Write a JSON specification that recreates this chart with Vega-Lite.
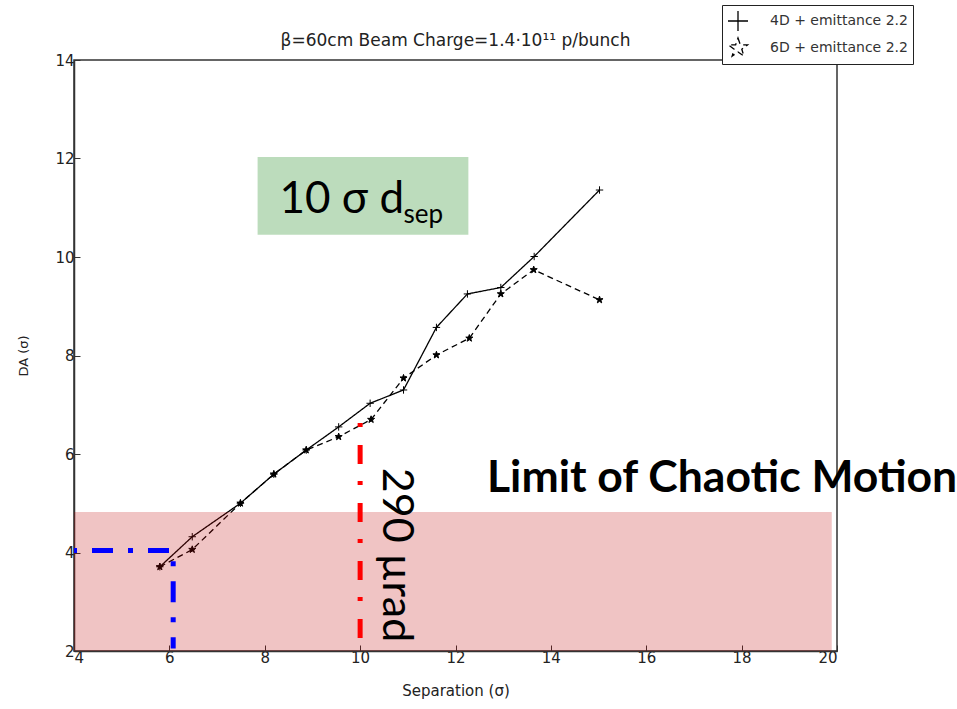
{
  "$schema": "https://vega.github.io/schema/vega-lite/v6.json",
  "width": 763,
  "height": 591,
  "autosize": {"type": "none"},
  "padding": {"left": 74, "top": 60, "right": 120, "bottom": 58},
  "background": "white",
  "view": {"stroke": "#333", "strokeWidth": 1.5},
  "config": {
    "axis": {
      "labelFont": "DejaVu Sans",
      "labelFontSize": 15,
      "labelColor": "#222",
      "titleFont": "DejaVu Sans",
      "titleFontWeight": "normal",
      "titleColor": "#222",
      "domainColor": "#333",
      "domainWidth": 1.5,
      "tickColor": "#333",
      "tickWidth": 1,
      "tickSize": -6,
      "grid": false
    }
  },
  "datasets": {
    "da": [
      {"sep": 5.8, "da": 3.71, "series": "4D + emittance 2.2"},
      {"sep": 6.48, "da": 4.32, "series": "4D + emittance 2.2"},
      {"sep": 7.49, "da": 5.0, "series": "4D + emittance 2.2"},
      {"sep": 8.19, "da": 5.59, "series": "4D + emittance 2.2"},
      {"sep": 8.87, "da": 6.08, "series": "4D + emittance 2.2"},
      {"sep": 9.55, "da": 6.55, "series": "4D + emittance 2.2"},
      {"sep": 10.21, "da": 7.03, "series": "4D + emittance 2.2"},
      {"sep": 10.91, "da": 7.3, "series": "4D + emittance 2.2"},
      {"sep": 11.6, "da": 8.57, "series": "4D + emittance 2.2"},
      {"sep": 12.25, "da": 9.25, "series": "4D + emittance 2.2"},
      {"sep": 12.95, "da": 9.38, "series": "4D + emittance 2.2"},
      {"sep": 13.65, "da": 10.01, "series": "4D + emittance 2.2"},
      {"sep": 15.02, "da": 11.36, "series": "4D + emittance 2.2"},
      {"sep": 5.8, "da": 3.71, "series": "6D + emittance 2.2"},
      {"sep": 6.48, "da": 4.06, "series": "6D + emittance 2.2"},
      {"sep": 7.49, "da": 5.0, "series": "6D + emittance 2.2"},
      {"sep": 8.19, "da": 5.59, "series": "6D + emittance 2.2"},
      {"sep": 8.87, "da": 6.08, "series": "6D + emittance 2.2"},
      {"sep": 9.55, "da": 6.35, "series": "6D + emittance 2.2"},
      {"sep": 10.23, "da": 6.7, "series": "6D + emittance 2.2"},
      {"sep": 10.91, "da": 7.54, "series": "6D + emittance 2.2"},
      {"sep": 11.6, "da": 8.01, "series": "6D + emittance 2.2"},
      {"sep": 12.29, "da": 8.35, "series": "6D + emittance 2.2"},
      {"sep": 12.95, "da": 9.25, "series": "6D + emittance 2.2"},
      {"sep": 13.64, "da": 9.74, "series": "6D + emittance 2.2"},
      {"sep": 15.02, "da": 9.13, "series": "6D + emittance 2.2"}
    ],
    "blue": [
      {"sep": 4.0, "da": 4.04, "o": 1},
      {"sep": 6.08, "da": 4.04, "o": 2},
      {"sep": 6.08, "da": 2.05, "o": 3}
    ],
    "red": [
      {"sep": 10.0, "da": 6.63, "o": 1},
      {"sep": 10.0, "da": 2.2, "o": 2}
    ],
    "one": [{}]
  },
  "layer": [
    {
      "data": {"name": "da"},
      "mark": {"type": "line", "color": "black", "strokeWidth": 1.3},
      "encoding": {
        "x": {"field": "sep", "type": "quantitative", "scale": {"domain": [4, 20], "nice": false, "zero": false},
              "axis": {"values": [4,6,8,10,12,14,16,18,20], "title": "Separation (σ)", "titleFontSize": 15, "labelPadding": 5, "titlePadding": 18}},
        "y": {"field": "da", "type": "quantitative", "scale": {"domain": [2, 14], "nice": false, "zero": false},
              "axis": {"values": [2,4,6,8,10,12,14], "title": "DA (σ)", "titleFontSize": 13, "labelPadding": 6, "titlePadding": 24}},
        "strokeDash": {"field": "series", "type": "nominal",
                       "scale": {"domain": ["4D + emittance 2.2", "6D + emittance 2.2"], "range": [[1, 0], [6, 4]]},
                       "legend": {
                         "title": null, "orient": "none", "legendX": 648, "legendY": -55,
                         "strokeColor": "#222", "fillColor": "white", "padding": 5,
                         "symbolSize": 400, "symbolStrokeWidth": 1.3, "symbolStrokeColor": "black",
                         "labelFont": "DejaVu Sans", "labelFontSize": 14, "labelColor": "#333", "labelOffset": 21, "rowPadding": 1
                       }}
      }
    },
    {
      "data": {"name": "da"},
      "mark": {"type": "point", "filled": false, "fill": "black", "stroke": "black", "strokeWidth": 1, "opacity": 1},
      "encoding": {
        "x": {"field": "sep", "type": "quantitative"},
        "y": {"field": "da", "type": "quantitative"},
        "shape": {"field": "series", "type": "nominal",
                  "scale": {"domain": ["4D + emittance 2.2", "6D + emittance 2.2"],
                            "range": ["M-1,0H1M0,-1V1", "M0,-1L0.235,-0.324L0.951,-0.309L0.38,0.124L0.588,0.809L0,0.4L-0.588,0.809L-0.38,0.124L-0.951,-0.309L-0.235,-0.324Z"]},
                  "legend": null},
        "size": {"value": 55}
      }
    },
    {
      "data": {"name": "one"},
      "mark": {"type": "rect", "color": "#be0000", "opacity": 0.23},
      "encoding": {
        "x": {"datum": 4, "type": "quantitative"},
        "x2": {"datum": 19.89},
        "y": {"datum": 2, "type": "quantitative"},
        "y2": {"datum": 4.82}
      }
    },
    {
      "data": {"name": "blue"},
      "mark": {"type": "line", "color": "#0000ff", "strokeWidth": 5, "strokeDash": [5, 15, 21, 15], "strokeDashOffset": 2},
      "encoding": {
        "x": {"field": "sep", "type": "quantitative"},
        "y": {"field": "da", "type": "quantitative"},
        "order": {"field": "o", "type": "quantitative"}
      }
    },
    {
      "data": {"name": "red"},
      "mark": {"type": "line", "color": "#ff0000", "strokeWidth": 5, "strokeDash": [4, 18, 19, 17]},
      "encoding": {
        "x": {"field": "sep", "type": "quantitative"},
        "y": {"field": "da", "type": "quantitative"},
        "order": {"field": "o", "type": "quantitative"}
      }
    },
    {
      "data": {"name": "one"},
      "mark": {"type": "rect", "color": "#bcdcbc"},
      "encoding": {
        "x": {"datum": 7.85, "type": "quantitative"},
        "x2": {"datum": 12.27},
        "y": {"datum": 10.45, "type": "quantitative"},
        "y2": {"datum": 12.03}
      }
    },
    {
      "data": {"name": "one"},
      "mark": {"type": "text", "text": "β=60cm  Beam Charge=1.4·10¹¹ p/bunch", "font": "DejaVu Sans", "fontSize": 17, "align": "center", "baseline": "alphabetic", "color": "#222"},
      "encoding": {
        "x": {"datum": 12, "type": "quantitative"},
        "y": {"datum": 14.28, "type": "quantitative"}
      }
    },
    {
      "data": {"name": "one"},
      "mark": {"type": "text", "text": "10 σ d", "font": "Lato", "fontSize": 44, "align": "left", "baseline": "alphabetic", "color": "black"},
      "encoding": {
        "x": {"datum": 8.31, "type": "quantitative"},
        "y": {"datum": 10.9, "type": "quantitative"}
      }
    },
    {
      "data": {"name": "one"},
      "mark": {"type": "text", "text": "sep", "font": "Lato", "fontSize": 26, "align": "left", "baseline": "alphabetic", "color": "black"},
      "encoding": {
        "x": {"datum": 10.91, "type": "quantitative"},
        "y": {"datum": 10.7, "type": "quantitative"}
      }
    },
    {
      "data": {"name": "one"},
      "mark": {"type": "text", "text": "Limit of Chaotic Motion", "font": "Lato", "fontSize": 44.5, "fontWeight": "bold", "align": "left", "baseline": "alphabetic", "color": "black"},
      "encoding": {
        "x": {"datum": 12.66, "type": "quantitative"},
        "y": {"datum": 5.23, "type": "quantitative"}
      }
    },
    {
      "data": {"name": "one"},
      "mark": {"type": "text", "text": "290 µrad", "font": "Lato", "fontSize": 43, "angle": 90, "align": "left", "baseline": "alphabetic", "color": "black"},
      "encoding": {
        "x": {"datum": 10.49, "type": "quantitative"},
        "y": {"datum": 5.72, "type": "quantitative"}
      }
    }
  ]
}
